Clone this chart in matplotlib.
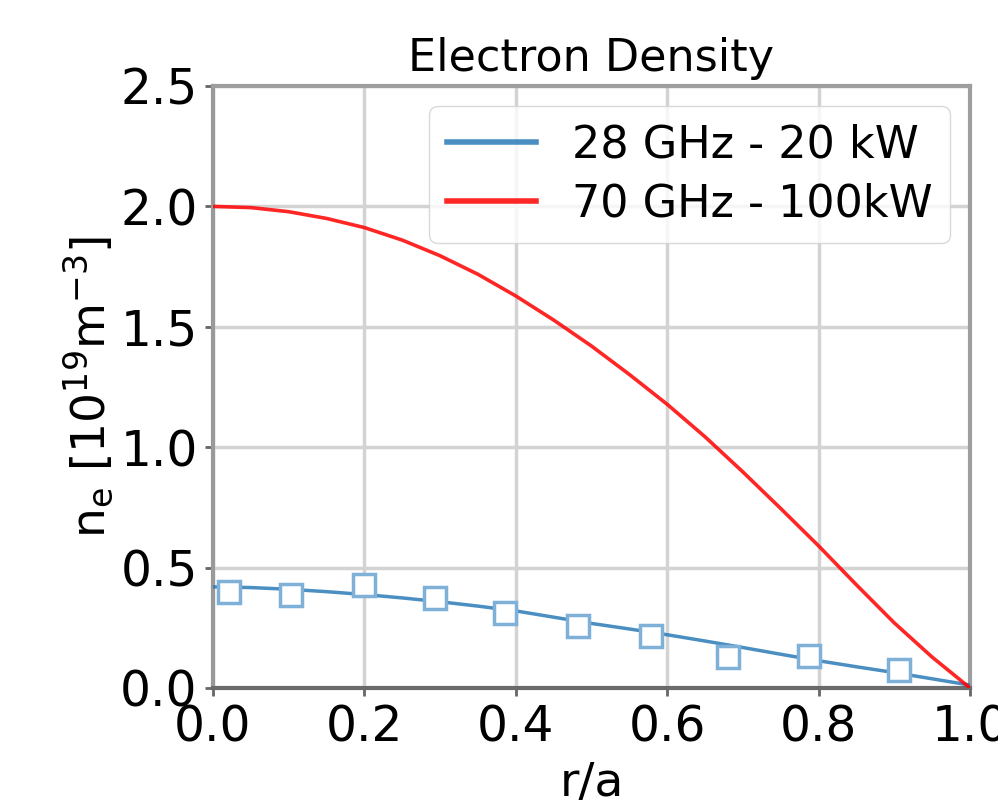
import matplotlib
matplotlib.use("Agg")
import matplotlib.pyplot as plt

# Radial positions of the fitted profiles
r_fit = [0.0, 0.05, 0.1, 0.15, 0.2, 0.25, 0.3, 0.35, 0.4, 0.45, 0.5,
         0.55, 0.6, 0.65, 0.7, 0.75, 0.8, 0.85, 0.9, 0.95, 1.0]

# 28 GHz - 20 kW fitted profile
ne_28 = [0.42, 0.417, 0.41, 0.40, 0.388, 0.374, 0.358, 0.34, 0.32, 0.294, 0.268,
         0.245, 0.221, 0.195, 0.168, 0.14, 0.113, 0.088, 0.064, 0.038, 0.012]

# 70 GHz - 100 kW profile
ne_70 = [2.0, 1.995, 1.978, 1.95, 1.912, 1.86, 1.795, 1.718, 1.628, 1.528, 1.42,
         1.302, 1.178, 1.043, 0.897, 0.745, 0.59, 0.428, 0.27, 0.128, 0.0]

# 28 GHz measured points
r_meas = [0.021, 0.103, 0.199, 0.293, 0.386, 0.482, 0.579, 0.680, 0.787, 0.906]
ne_meas = [0.40, 0.387, 0.428, 0.374, 0.312, 0.258, 0.216, 0.129, 0.133, 0.075]

labels = ["28 GHz - 20 kW", "70 GHz - 100kW"]
x_ticks = [0.0, 0.2, 0.4, 0.6, 0.8, 1.0]
y_ticks = [0.0, 0.5, 1.0, 1.5, 2.0, 2.5]

fig = plt.figure(figsize=(9.98, 8.09), dpi=100)
ax = fig.add_axes([0.2134, 0.1496, 0.7586, 0.7441])

ax.plot(r_fit, ne_28, color="#2a7ab8", lw=2.5, alpha=0.85, label=labels[0],
        zorder=3, solid_joinstyle="round")
ax.plot(r_fit, ne_70, color="red", lw=2.6, alpha=0.85, label=labels[1],
        zorder=3, solid_joinstyle="round")
ax.plot(r_meas, ne_meas, ls="none", marker="s", ms=16, mew=2.5,
        mec="#7eb0d8", mfc="white", zorder=4)

ax.set_xlim(0, 1)
ax.set_ylim(0, 2.5)
ax.set_xticks(x_ticks)
ax.set_yticks(y_ticks)
ax.grid(True, color="#d3d3d3", lw=2.5)
ax.set_axisbelow(True)

for side, col in [("left", "0.6"), ("bottom", "0.42"), ("top", "0.62"), ("right", "0.62")]:
    ax.spines[side].set_color(col)
    ax.spines[side].set_linewidth(3)

ax.tick_params(axis="both", labelsize=35, length=6, width=2, color="0.4", pad=5)

ax.set_title("Electron Density", fontsize=32, pad=11)
ax.set_xlabel("r/a", fontsize=34, labelpad=7)
ax.set_ylabel(r"n$_{\mathrm{e}}$ [10$^{19}$m$^{-3}$]", fontsize=34, labelpad=4)

leg = ax.legend(loc="upper right", fontsize=32, labelspacing=0.35, framealpha=0.8,
                edgecolor="#d0d0d0", borderaxespad=0.45)
for line in leg.get_lines():
    line.set_linewidth(4)

fig.savefig("out.png", dpi=100)
